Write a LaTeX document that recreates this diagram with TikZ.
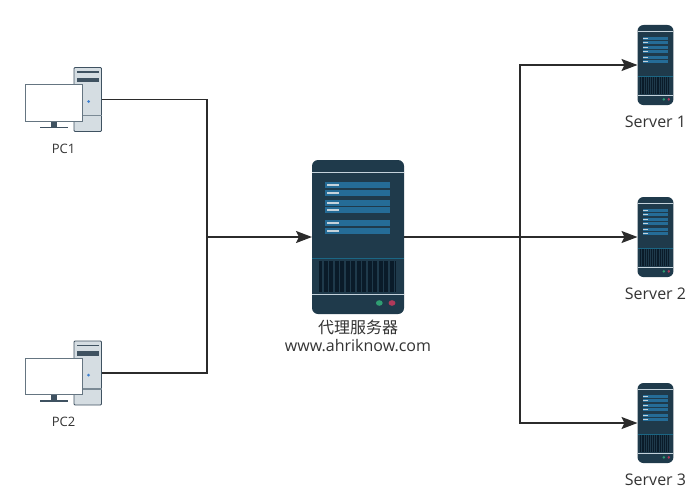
\documentclass[tikz,border=0pt]{standalone}
\usepackage{fontspec}
\usetikzlibrary{arrows.meta}
\setmainfont{Open Sans}
\newfontfamily\cjkfont{Noto Sans CJK SC}
\definecolor{srvbody}{HTML}{1F3A4B}
\definecolor{srvbar}{HTML}{256C97}
\definecolor{srvgrille}{HTML}{0A1B29}
\definecolor{srvline}{HTML}{C4D2DB}
\definecolor{srvteal}{HTML}{1B6684}
\definecolor{srvgreen}{HTML}{2F9E72}
\definecolor{srvred}{HTML}{B0395A}
\definecolor{pcgray}{HTML}{D5DDE2}
\definecolor{pcedge}{HTML}{3F5261}
\definecolor{pcled}{HTML}{3C7FD0}
\definecolor{linkgray}{HTML}{2B2B2B}
\definecolor{labelgray}{HTML}{333333}
\tikzset{
	iconbox/.style={inner sep=0pt, outer sep=0pt},
	link/.style={draw=linkgray, line width=1.8pt, -{Stealth[length=16pt,width=12pt,inset=3pt]}},
	plainlink/.style={draw=linkgray, line width=1.8pt},
	pclabel/.style={inner sep=0pt, text=labelgray, font=\fontsize{13}{15}\selectfont},
	srvlabel/.style={inner sep=0pt, text=labelgray, font=\fontsize{16}{18}\selectfont},
	servericon/.pic={
		% BODY, ORIGIN AT TOP LEFT, 92 x 154
		\fill[srvbody, rounded corners=6pt] (0,0) rectangle (92,154);
		\fill[srvline] (0,12) rectangle (92,13.2);
		\fill[srvline] (0,134) rectangle (92,135.2);
		\fill[srvteal] (0,98) rectangle (92,99);
		\fill[srvgrille] (6.7,100.5) rectangle (83.7,132);
		\foreach \sx in {10,15.5,...,82}
			\fill[srvbody] (\sx,100.5) rectangle ++(1.6,31.5);
		\foreach \by in {22.3,30,40,47.3,60,68} {
			\fill[srvbar] (13.3,\by) rectangle ++(65,6);
			\fill[srvline] (15,\by+2) rectangle ++(12,2);
		}
		\fill[srvgreen] (67.3,143) ellipse (3.4 and 2.8);
		\fill[srvred] (80,143) ellipse (3.4 and 2.8);
	},
	pcicon/.pic={
		% TOWER AND MONITOR, ORIGIN AT TOP LEFT OF TOWER
		\filldraw[fill=pcgray, draw=pcedge, line width=.9pt, rounded corners=1pt] (0,0) rectangle (27.5,64);
		\fill[pcedge] (2.5,3.5) rectangle (25,5);
		\fill[pcedge] (2.5,10) rectangle (25,14.5);
		\fill[pcedge!60!pcgray] (0,47) rectangle (27.5,48.5);
		\fill[pcled] (14.5,34) circle (1.5);
		\fill[pcedge] (-23,54) rectangle (-16.7,59);
		\fill[pcedge] (-34,59) rectangle (-6.3,60.8);
		\filldraw[fill=white, draw=pcedge!80!white, line width=1pt] (-49,17) rectangle (8.7,53.7);
	}
}
\begin{document}
\begin{tikzpicture}[x=1pt, y=-1pt]
	\useasboundingbox (0,0) rectangle (698,503);
	
	% ICONS
	\pic at (74,67.5) {pcicon};
	\pic at (74,341) {pcicon};
	\pic at (312,160) {servericon};
	\pic[xscale=.391, yscale=.52] at (637.5,25) {servericon};
	\pic[xscale=.391, yscale=.52] at (637.5,197) {servericon};
	\pic[xscale=.391, yscale=.52] at (637.5,383) {servericon};
	
	% NODES OVER THE ICONS
	\node[iconbox, minimum width=77pt, minimum height=64pt] (pcone) at (63.5,99.5) {};
	\node[iconbox, minimum width=77pt, minimum height=64pt] (pctwo) at (63.5,373) {};
	\node[iconbox, minimum width=92pt, minimum height=154pt] (proxy) at (358,237) {};
	\node[iconbox, minimum width=36pt, minimum height=80pt] (serverone) at (655.5,65) {};
	\node[iconbox, minimum width=36pt, minimum height=80pt] (servertwo) at (655.5,237) {};
	\node[iconbox, minimum width=36pt, minimum height=80pt] (serverthree) at (655.5,423) {};
	\coordinate (joinleft) at (207,237);
	\coordinate (joinright) at (520,237);
	
	% LABELS
	\node[pclabel] (pconelabel) at (63.5,149) {PC1};
	\node[pclabel] (pctwolabel) at (63.5,422) {PC2};
	\node[srvlabel] (proxyname) at (358,327) {\cjkfont 代理服务器};
	\node[srvlabel] (proxyurl) at (358,346) {www.ahriknow.com};
	\node[srvlabel] (serveronelabel) at (655.5,122) {Server 1};
	\node[srvlabel] (servertwolabel) at (655.5,294) {Server 2};
	\node[srvlabel] (serverthreelabel) at (655.5,480) {Server 3};
	
	% CONNECTORS
	\draw[plainlink] (pcone.east) -| (joinleft);
	\draw[plainlink] (pctwo.east) -| (joinleft);
	\draw[link] (joinleft) -- (proxy.west);
	\draw[link] (proxy.east) -- (joinright) |- (serverone.west);
	\draw[link] (proxy.east) -- (servertwo.west);
	\draw[link] (proxy.east) -- (joinright) |- (serverthree.west);
\end{tikzpicture}
\end{document}
